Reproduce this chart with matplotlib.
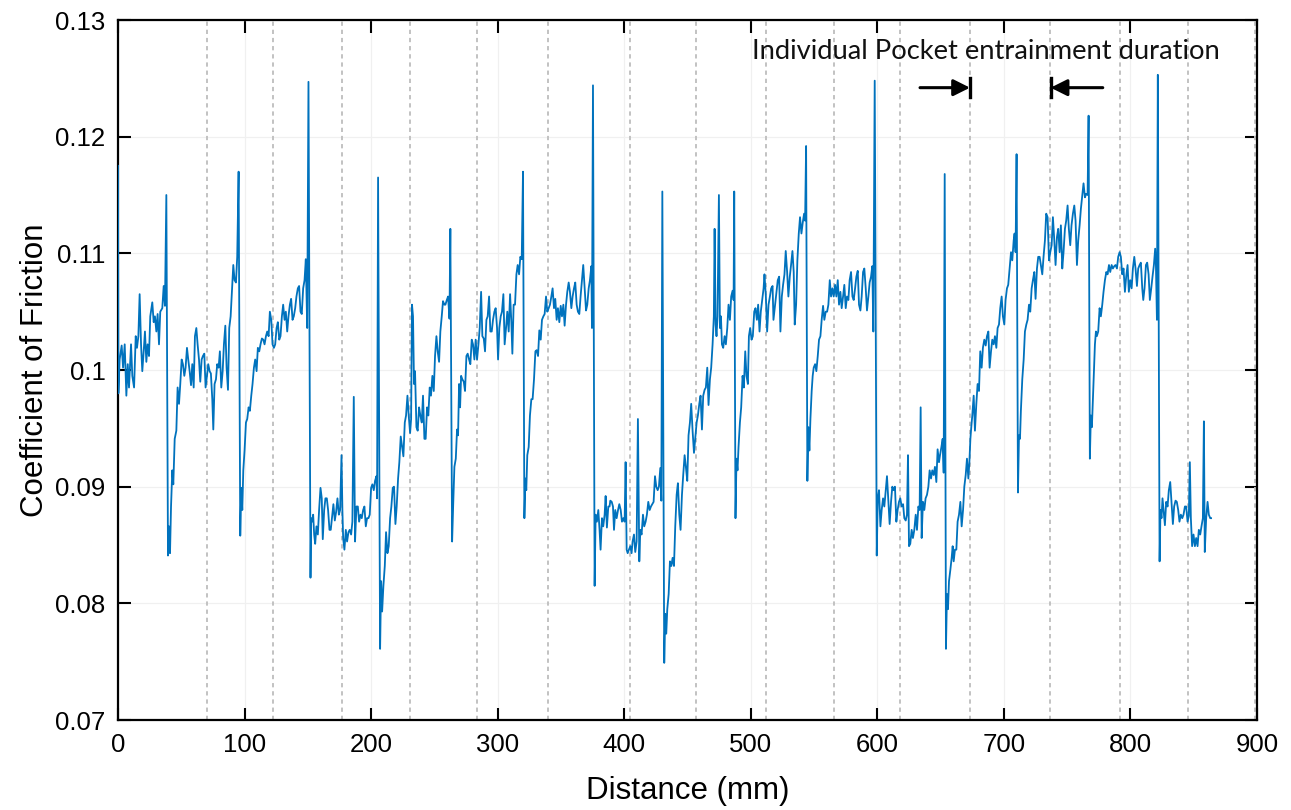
import matplotlib
matplotlib.use("Agg")
import matplotlib.pyplot as plt
from matplotlib.ticker import FuncFormatter
import numpy as np

# Friction trace, (distance mm, coefficient of friction), split by stretch of travel
pocket_a = [
    (0.0, 0.1175), (0.3, 0.0980), (1.3, 0.1009), (2.9, 0.1021), (4.0, 0.1002), (5.3, 0.1022),
    (6.6, 0.0978), (7.7, 0.1005), (8.7, 0.0985), (10.3, 0.1022), (11.3, 0.0995), (12.7, 0.0985),
    (14.0, 0.1029), (15.0, 0.1019), (16.1, 0.1029), (17.1, 0.1065), (18.2, 0.1022), (19.2, 0.0999),
    (20.3, 0.1016), (21.3, 0.1033), (22.4, 0.1007), (23.4, 0.1022), (24.5, 0.1012), (25.5, 0.1046),
    (27.1, 0.1058), (28.2, 0.1041), (29.2, 0.1046), (30.3, 0.1033), (31.3, 0.1048), (32.4, 0.1022),
    (33.4, 0.1050), (35.0, 0.1053), (36.1, 0.1072), (37.1, 0.1055), (38.2, 0.1150), (39.5, 0.0841),
    (40.3, 0.0866), (41.1, 0.0843), (41.9, 0.0883), (42.9, 0.0914), (43.7, 0.0902), (44.8, 0.0941),
    (46.1, 0.0948), (47.1, 0.0985), (48.2, 0.0971), (49.2, 0.0988), (50.3, 0.1009), (51.3, 0.1005),
    (52.4, 0.0995), (53.4, 0.1002), (54.5, 0.1019), (55.5, 0.1009), (56.6, 0.0999), (57.7, 0.0987),
    (58.7, 0.1005), (59.8, 0.0985), (60.8, 0.1029), (61.9, 0.1036), (62.9, 0.1022), (64.0, 0.1009),
    (65.0, 0.0990), (66.1, 0.1009), (67.1, 0.1012), (68.2, 0.1014), (69.2, 0.0985), (70.3, 0.0995),
    (71.3, 0.1005), (72.4, 0.0999), (73.4, 0.0997), (74.5, 0.0975), (75.3, 0.0949), (76.3, 0.0988),
    (77.4, 0.0992), (78.4, 0.1005), (79.5, 0.1002), (80.5, 0.1016), (81.6, 0.0985), (82.7, 0.0999),
    (83.7, 0.1022), (84.8, 0.1038), (85.8, 0.1002), (86.9, 0.0983), (87.9, 0.1036), (89.0, 0.1046),
    (90.0, 0.1067), (91.1, 0.1090), (92.1, 0.1077), (93.2, 0.1075), (94.2, 0.1097), (95.3, 0.1170),
    (96.6, 0.0858), (97.4, 0.0899), (98.2, 0.0880), (99.0, 0.0914), (100.0, 0.0931), (101.1, 0.0955),
    (102.1, 0.0958), (103.2, 0.0968), (104.2, 0.0965), (105.3, 0.0978), (106.3, 0.0988), (107.4, 0.1002),
    (108.4, 0.1009), (109.5, 0.0999), (110.5, 0.1019), (111.6, 0.1016), (112.6, 0.1022), (113.7, 0.1027),
    (114.8, 0.1026), (115.8, 0.1022), (116.9, 0.1029), (117.9, 0.1033), (119.0, 0.1029), (120.0, 0.1050),
    (121.1, 0.1043), (122.1, 0.1022), (123.2, 0.1019), (124.2, 0.1022), (125.3, 0.1036), (126.3, 0.1041),
    (127.4, 0.1026),
]

pocket_b = [
    (128.4, 0.1029), (129.5, 0.1046), (130.5, 0.1056), (131.6, 0.1043), (132.6, 0.1050), (133.7, 0.1033),
    (134.7, 0.1046), (135.8, 0.1056), (136.8, 0.1061), (137.9, 0.1043), (138.9, 0.1046), (140.0, 0.1053),
    (141.0, 0.1063), (142.1, 0.1070), (143.1, 0.1072), (144.2, 0.1050), (145.2, 0.1048), (146.3, 0.1070),
    (147.4, 0.1077), (148.4, 0.1095), (149.5, 0.1036), (150.5, 0.1247), (152.1, 0.0822), (152.6, 0.0873),
    (153.4, 0.0870), (154.2, 0.0876), (155.0, 0.0859), (155.8, 0.0851), (156.8, 0.0866), (157.9, 0.0859),
    (158.9, 0.0880), (160.0, 0.0899), (161.0, 0.0890), (161.8, 0.0855), (162.9, 0.0880), (163.9, 0.0890),
    (165.0, 0.0890), (166.0, 0.0880), (167.1, 0.0863), (168.1, 0.0863), (169.2, 0.0875), (170.2, 0.0885),
    (171.3, 0.0871), (172.3, 0.0878), (173.4, 0.0890), (174.5, 0.0876), (175.5, 0.0880), (176.6, 0.0927),
    (177.3, 0.0880), (177.9, 0.0856), (178.9, 0.0846), (180.0, 0.0863), (181.0, 0.0853), (182.1, 0.0861),
    (183.1, 0.0863), (184.2, 0.0859), (185.2, 0.0870), (186.3, 0.0977), (187.3, 0.0853), (188.4, 0.0883),
    (189.5, 0.0883), (190.5, 0.0870), (191.6, 0.0876), (192.6, 0.0873), (193.7, 0.0880), (194.7, 0.0883),
    (195.8, 0.0866), (196.8, 0.0873), (197.9, 0.0873), (198.9, 0.0876), (200.0, 0.0899), (201.0, 0.0902),
    (202.1, 0.0897), (203.1, 0.0905), (204.2, 0.0909), (204.7, 0.0890), (205.5, 0.1165), (207.1, 0.0761),
    (207.9, 0.0819), (208.7, 0.0793), (209.7, 0.0815), (210.8, 0.0832), (211.8, 0.0861), (212.9, 0.0843),
    (213.9, 0.0849), (215.0, 0.0873), (216.0, 0.0883), (217.1, 0.0899), (218.1, 0.0900), (219.2, 0.0868),
    (220.2, 0.0883), (221.3, 0.0907), (222.3, 0.0921), (223.4, 0.0943), (224.5, 0.0934), (225.5, 0.0926),
    (226.6, 0.0955), (227.6, 0.0961), (228.7, 0.0978), (229.7, 0.0961), (230.8, 0.0946), (231.6, 0.0958),
    (232.3, 0.1056), (233.1, 0.1046), (233.9, 0.0988), (234.7, 0.0999), (235.8, 0.0951), (236.8, 0.0948),
    (237.9, 0.0968), (238.9, 0.0961), (240.0, 0.0955), (241.0, 0.0978), (242.1, 0.0941), (243.1, 0.0941),
    (244.2, 0.0968), (245.2, 0.0961), (246.3, 0.0985), (247.3, 0.0978), (248.4, 0.0995), (249.5, 0.0982),
    (250.5, 0.1012), (251.6, 0.1029), (252.6, 0.1016), (253.7, 0.1007), (254.7, 0.1033), (255.8, 0.1046),
    (256.8, 0.1059), (257.9, 0.1056),
]

pocket_c = [
    (258.7, 0.1056), (259.8, 0.1060), (260.8, 0.1063), (261.9, 0.1044), (262.6, 0.1121), (264.0, 0.0853),
    (264.8, 0.0883), (265.8, 0.0917), (266.9, 0.0924), (267.9, 0.0949), (268.7, 0.0944), (269.5, 0.0988),
    (270.3, 0.0968), (271.1, 0.0995), (272.1, 0.0992), (273.2, 0.0990), (274.2, 0.0982), (275.3, 0.1012),
    (276.3, 0.1014), (277.4, 0.1009), (278.4, 0.1005), (279.5, 0.1026), (280.5, 0.1022), (281.6, 0.1009),
    (282.6, 0.1026), (283.7, 0.1009), (284.8, 0.1022), (285.8, 0.1036), (286.9, 0.1067), (287.9, 0.1029),
    (289.0, 0.1027), (290.0, 0.1016), (291.1, 0.1043), (292.1, 0.1046), (293.2, 0.1063), (294.2, 0.1033),
    (295.3, 0.1033), (296.3, 0.1043), (297.4, 0.1050), (298.4, 0.1053), (299.5, 0.1036), (300.3, 0.1009),
    (301.3, 0.1036), (302.4, 0.1046), (303.4, 0.1050), (304.5, 0.1065), (305.5, 0.1022), (306.6, 0.1036),
    (307.6, 0.1050), (308.7, 0.1033), (309.8, 0.1065), (310.8, 0.1041), (311.6, 0.1014), (312.6, 0.1056),
    (313.7, 0.1056), (314.8, 0.1082), (315.8, 0.1090), (316.9, 0.1082), (317.9, 0.1097), (319.0, 0.1095),
    (320.0, 0.1170), (321.1, 0.0873), (321.9, 0.0907), (322.6, 0.0897), (323.4, 0.0927), (324.5, 0.0934),
    (325.5, 0.0961), (326.6, 0.0975), (327.6, 0.0975), (328.7, 0.0992), (329.8, 0.1016), (330.8, 0.1017),
    (331.9, 0.1012), (332.9, 0.1034), (334.0, 0.1026), (335.0, 0.1043), (336.1, 0.1046), (337.1, 0.1048),
    (338.2, 0.1063), (339.2, 0.1050), (340.3, 0.1053), (341.3, 0.1056), (342.4, 0.1063), (343.4, 0.1070),
    (344.5, 0.1053), (345.5, 0.1061), (346.6, 0.1043), (347.6, 0.1053), (348.7, 0.1041), (349.8, 0.1055),
    (350.8, 0.1046), (351.9, 0.1056), (352.9, 0.1038), (354.0, 0.1056), (355.0, 0.1067), (356.1, 0.1075),
    (357.1, 0.1067), (358.2, 0.1053), (359.2, 0.1063), (360.3, 0.1070), (361.3, 0.1075), (362.4, 0.1056),
    (363.4, 0.1050), (364.5, 0.1048), (365.5, 0.1063), (366.6, 0.1077), (367.6, 0.1090), (368.7, 0.1070),
    (369.8, 0.1051), (370.8, 0.1056), (371.9, 0.1070), (372.9, 0.1077), (374.0, 0.1089), (374.5, 0.1036),
    (375.3, 0.1244), (376.6, 0.0815), (377.4, 0.0876), (378.4, 0.0870), (379.5, 0.0880), (380.5, 0.0863),
    (381.3, 0.0846), (382.4, 0.0873), (383.4, 0.0866), (384.5, 0.0876), (385.3, 0.0892), (386.3, 0.0865),
    (387.4, 0.0883), (388.4, 0.0883),
]

pocket_d = [
    (389.0, 0.0888), (390.1, 0.0887), (391.1, 0.0883), (391.9, 0.0863), (392.9, 0.0880), (394.0, 0.0873),
    (395.1, 0.0880), (396.1, 0.0885), (397.2, 0.0880), (398.2, 0.0870), (399.3, 0.0873), (400.3, 0.0870),
    (401.1, 0.0921), (401.9, 0.0846), (402.7, 0.0843), (403.7, 0.0846), (404.8, 0.0849), (405.8, 0.0843),
    (406.6, 0.0853), (407.7, 0.0859), (408.7, 0.0844), (409.8, 0.0853), (410.8, 0.0958), (411.9, 0.0836),
    (412.7, 0.0863), (413.7, 0.0859), (414.8, 0.0876), (415.8, 0.0866), (416.9, 0.0870), (417.9, 0.0876),
    (419.0, 0.0887), (420.1, 0.0880), (421.1, 0.0883), (422.2, 0.0885), (423.2, 0.0887), (424.3, 0.0909),
    (425.3, 0.0900), (426.4, 0.0897), (427.4, 0.0900), (428.5, 0.0916), (429.3, 0.0888), (430.1, 0.1153),
    (431.6, 0.0749), (432.4, 0.0791), (433.2, 0.0774), (434.0, 0.0795), (435.1, 0.0808), (436.1, 0.0836),
    (437.2, 0.0832), (438.2, 0.0839), (439.3, 0.0832), (440.3, 0.0866), (441.4, 0.0893), (442.4, 0.0903),
    (443.5, 0.0876), (444.5, 0.0863), (445.6, 0.0893), (446.6, 0.0910), (447.7, 0.0927), (448.7, 0.0917),
    (449.8, 0.0905), (450.8, 0.0944), (451.9, 0.0955), (452.9, 0.0971), (454.0, 0.0948), (455.1, 0.0929),
    (456.1, 0.0941), (457.2, 0.0955), (458.2, 0.0961), (459.3, 0.0971), (460.3, 0.0978), (461.4, 0.0949),
    (462.4, 0.0978), (463.5, 0.0983), (464.5, 0.0985), (465.6, 0.1002), (466.6, 0.0970), (467.7, 0.0992),
    (468.7, 0.1002), (469.8, 0.1022), (470.8, 0.1046), (471.4, 0.1121), (472.2, 0.1039), (472.9, 0.1029),
    (473.7, 0.1046), (474.8, 0.1150), (475.6, 0.1036), (476.4, 0.1046), (477.2, 0.1022), (478.2, 0.1019),
    (479.3, 0.1029), (480.3, 0.1022), (481.4, 0.1036), (482.4, 0.1056), (483.5, 0.1043), (484.5, 0.1063),
    (485.6, 0.1068), (486.4, 0.1060), (486.9, 0.1153), (487.9, 0.0873), (488.7, 0.0924), (489.5, 0.0914),
    (490.3, 0.0934), (491.4, 0.0955), (492.4, 0.0968), (493.5, 0.0995), (494.5, 0.0985), (495.6, 0.1016),
    (496.6, 0.0995), (497.7, 0.0988), (498.5, 0.1029), (499.5, 0.1036), (500.6, 0.1026), (501.6, 0.1029),
    (502.7, 0.1050), (503.7, 0.1053), (504.8, 0.1043), (505.8, 0.1056), (506.9, 0.1033), (507.9, 0.1050),
    (509.0, 0.1060), (510.1, 0.1070), (510.8, 0.1082), (511.9, 0.1063), (512.9, 0.1033), (514.0, 0.1056),
    (515.1, 0.1063), (516.1, 0.1070), (517.2, 0.1072), (517.9, 0.1043),
]

pocket_e = [
    (519.2, 0.1056), (520.3, 0.1067), (521.3, 0.1077), (522.4, 0.1080), (523.4, 0.1033), (524.5, 0.1063),
    (525.5, 0.1073), (526.6, 0.1082), (527.6, 0.1102), (528.7, 0.1084), (529.7, 0.1063), (530.8, 0.1080),
    (531.8, 0.1090), (532.9, 0.1102), (533.9, 0.1084), (534.7, 0.1039), (535.8, 0.1056), (536.8, 0.1094),
    (537.9, 0.1117), (538.9, 0.1131), (540.0, 0.1117), (541.0, 0.1126), (542.1, 0.1134), (542.9, 0.1128),
    (543.7, 0.1192), (544.7, 0.0905), (545.5, 0.0951), (546.3, 0.0931), (547.1, 0.0958), (548.1, 0.0982),
    (548.9, 0.0995), (549.7, 0.1002), (550.8, 0.1005), (551.8, 0.0999), (552.9, 0.1012), (553.9, 0.1026),
    (555.0, 0.1029), (556.0, 0.1043), (557.1, 0.1055), (558.1, 0.1043), (559.2, 0.1050), (560.3, 0.1050),
    (561.3, 0.1056), (562.4, 0.1077), (563.4, 0.1063), (564.5, 0.1070), (565.5, 0.1063), (566.6, 0.1073),
    (567.6, 0.1063), (568.7, 0.1077), (569.7, 0.1056), (570.8, 0.1067), (571.8, 0.1053), (572.9, 0.1063),
    (573.9, 0.1073), (575.0, 0.1053), (576.0, 0.1063), (577.1, 0.1060), (578.1, 0.1077), (579.2, 0.1084),
    (580.3, 0.1063), (581.3, 0.1060), (582.4, 0.1070), (583.4, 0.1080), (584.5, 0.1085), (585.5, 0.1056),
    (586.6, 0.1051), (587.6, 0.1063), (588.7, 0.1084), (589.7, 0.1087), (590.8, 0.1070), (591.8, 0.1051),
    (592.9, 0.1063), (593.9, 0.1075), (595.0, 0.1080), (596.0, 0.1089), (596.8, 0.1033), (597.9, 0.1248),
    (599.5, 0.0841), (600.3, 0.0890), (601.3, 0.0897), (602.4, 0.0866), (603.4, 0.0880), (604.5, 0.0890),
    (605.5, 0.0883), (606.6, 0.0897), (607.6, 0.0909), (608.7, 0.0887), (609.7, 0.0868), (610.8, 0.0887),
    (611.8, 0.0900), (612.9, 0.0897), (613.9, 0.0900), (615.0, 0.0870), (616.0, 0.0880), (617.1, 0.0887),
    (618.1, 0.0890), (619.2, 0.0883), (620.3, 0.0885), (621.3, 0.0873), (622.4, 0.0871), (623.4, 0.0876),
    (624.2, 0.0927), (625.0, 0.0849), (626.0, 0.0851), (627.1, 0.0863), (628.1, 0.0856), (629.2, 0.0863),
    (630.3, 0.0876), (631.3, 0.0863), (632.4, 0.0883), (633.4, 0.0880), (634.2, 0.0968), (635.0, 0.0856),
    (636.0, 0.0887), (637.1, 0.0880), (638.1, 0.0890), (639.2, 0.0893), (640.3, 0.0900), (641.3, 0.0914),
    (642.4, 0.0907), (643.4, 0.0914), (644.5, 0.0910), (645.5, 0.0917), (646.6, 0.0904), (647.6, 0.0932),
    (648.7, 0.0921),
]

pocket_f = [
    (649.5, 0.0927), (650.6, 0.0934), (651.6, 0.0941), (652.4, 0.0912), (653.2, 0.1168), (654.2, 0.0761),
    (655.0, 0.0808), (655.8, 0.0795), (656.6, 0.0819), (657.7, 0.0829), (658.7, 0.0839), (659.5, 0.0849),
    (660.3, 0.0836), (661.3, 0.0846), (662.4, 0.0846), (663.4, 0.0870), (664.5, 0.0876), (665.6, 0.0887),
    (666.6, 0.0866), (667.7, 0.0880), (668.7, 0.0900), (669.8, 0.0910), (670.8, 0.0924), (671.9, 0.0907),
    (672.7, 0.0921), (673.5, 0.0941), (674.2, 0.0951), (675.0, 0.0961), (676.1, 0.0978), (677.1, 0.0948),
    (678.2, 0.0971), (679.2, 0.0988), (680.3, 0.0982), (681.3, 0.1016), (682.4, 0.1002), (683.4, 0.1019),
    (684.5, 0.1026), (685.6, 0.1021), (686.6, 0.1029), (687.7, 0.1033), (688.7, 0.1002), (689.8, 0.1016),
    (690.8, 0.1026), (691.9, 0.1022), (692.9, 0.1029), (694.0, 0.1019), (695.0, 0.1036), (696.1, 0.1039),
    (697.1, 0.1053), (698.2, 0.1063), (699.2, 0.1046), (700.3, 0.1039), (701.3, 0.1060), (702.4, 0.1070),
    (703.4, 0.1073), (704.5, 0.1087), (705.6, 0.1101), (706.6, 0.1094), (707.7, 0.1111), (708.4, 0.1117),
    (709.2, 0.1101), (710.0, 0.1185), (711.1, 0.0895), (711.9, 0.0944), (712.7, 0.0941), (713.4, 0.0965),
    (714.5, 0.0992), (715.6, 0.1009), (716.6, 0.1033), (717.7, 0.1039), (718.7, 0.1043), (719.8, 0.1056),
    (720.8, 0.1050), (721.9, 0.1070), (722.9, 0.1077), (724.0, 0.1084), (725.0, 0.1061), (726.1, 0.1087),
    (727.1, 0.1097), (728.2, 0.1097), (729.2, 0.1090), (730.3, 0.1082), (731.3, 0.1097), (732.4, 0.1111),
    (733.4, 0.1134), (734.5, 0.1131), (735.6, 0.1094), (736.6, 0.1101), (737.7, 0.1107), (738.7, 0.1131),
    (739.8, 0.1111), (740.8, 0.1090), (741.9, 0.1114), (742.9, 0.1121), (744.0, 0.1101), (745.0, 0.1124),
    (746.1, 0.1087), (747.1, 0.1101), (748.2, 0.1121), (749.2, 0.1128), (750.3, 0.1141), (751.3, 0.1121),
    (752.4, 0.1107), (753.4, 0.1124), (754.5, 0.1134), (755.6, 0.1141), (756.6, 0.1128), (757.7, 0.1090),
    (758.7, 0.1111), (759.8, 0.1124), (760.8, 0.1138), (761.9, 0.1150), (762.9, 0.1160), (764.0, 0.1148),
    (765.0, 0.1151), (766.1, 0.1150), (766.9, 0.1218), (767.9, 0.0924), (768.7, 0.0961), (769.5, 0.0951),
    (770.3, 0.0975), (771.1, 0.0999), (771.9, 0.1022), (772.7, 0.1033), (773.4, 0.1029), (774.5, 0.1033),
    (775.6, 0.1053), (776.6, 0.1046), (777.7, 0.1056), (778.7, 0.1067),
]

pocket_g = [
    (779.8, 0.1077), (780.9, 0.1084), (781.9, 0.1082), (783.0, 0.1090), (784.0, 0.1084), (785.1, 0.1090),
    (786.1, 0.1087), (787.2, 0.1089), (788.2, 0.1090), (789.3, 0.1087), (790.3, 0.1097), (791.4, 0.1101),
    (792.4, 0.1097), (793.5, 0.1082), (794.5, 0.1087), (795.6, 0.1067), (796.6, 0.1080), (797.7, 0.1090),
    (798.7, 0.1067), (799.8, 0.1077), (800.9, 0.1070), (801.9, 0.1087), (803.0, 0.1097), (804.0, 0.1087),
    (805.1, 0.1072), (806.1, 0.1087), (807.2, 0.1090), (808.2, 0.1092), (809.3, 0.1070), (810.1, 0.1060),
    (811.1, 0.1070), (812.2, 0.1090), (813.2, 0.1092), (814.3, 0.1082), (815.3, 0.1060), (816.4, 0.1070),
    (817.4, 0.1080), (818.5, 0.1090), (819.5, 0.1104), (820.1, 0.1090), (820.9, 0.1043), (821.6, 0.1253),
    (823.0, 0.0836), (823.7, 0.0880), (824.5, 0.0873), (825.3, 0.0890), (826.1, 0.0880), (827.2, 0.0867),
    (828.2, 0.0887), (829.3, 0.0883), (830.3, 0.0897), (831.4, 0.0904), (832.4, 0.0887), (833.5, 0.0868),
    (834.5, 0.0883), (835.6, 0.0888), (836.6, 0.0887), (837.7, 0.0880), (838.7, 0.0870), (839.8, 0.0876),
    (840.9, 0.0873), (841.9, 0.0876), (843.0, 0.0883), (844.0, 0.0883), (845.1, 0.0870), (846.1, 0.0875),
    (846.9, 0.0921), (847.7, 0.0873), (848.7, 0.0849), (849.8, 0.0859), (850.9, 0.0849), (851.9, 0.0856),
    (853.0, 0.0849), (854.0, 0.0863), (855.1, 0.0859), (856.1, 0.0866), (857.2, 0.0873), (858.0, 0.0956),
    (858.7, 0.0844), (859.8, 0.0873), (860.9, 0.0887), (861.9, 0.0876), (863.0, 0.0873), (863.7, 0.0873),
]

# Pocket boundary positions (mm)
pocket_edges = [70.0, 122.1, 177.2, 231.0, 283.4, 340.0, 404.8, 456.9, 512.0,
                565.8, 617.9, 673.2, 736.3, 791.6, 845.3, 898.2]

x_ticks = [0, 100, 200, 300, 400, 500, 600, 700, 800, 900]
y_ticks = [0.07, 0.08, 0.09, 0.10, 0.11, 0.12, 0.13]

trace = np.array(pocket_a + pocket_b + pocket_c + pocket_d + pocket_e + pocket_f + pocket_g)

fig = plt.figure(figsize=(12.91, 8.10), dpi=100)
ax = fig.add_axes([0.0914, 0.1111, 0.8823, 0.8642])

ax.grid(True, color="#f0f0f0", lw=0.9, zorder=0)
ax.set_axisbelow(True)

for edge in pocket_edges:
    ax.axvline(edge, color="#c2c2c2", lw=1.4, dashes=(2.2, 2.0), zorder=1)

ax.plot(trace[:, 0], trace[:, 1], color="#0072BD", lw=1.3, zorder=3)

ax.set_xlim(0, 900)
ax.set_ylim(0.07, 0.13)
ax.set_xticks(x_ticks)
ax.set_yticks(y_ticks)
ax.yaxis.set_major_formatter(FuncFormatter(lambda v, p: "%g" % round(v, 4)))

for lab in ax.get_xticklabels() + ax.get_yticklabels():
    lab.set_fontfamily("Liberation Sans")
    lab.set_fontsize(18.5)

ax.tick_params(direction="in", length=9, width=1.5, top=True, right=True, pad=9)
for sp in ax.spines.values():
    sp.set_linewidth(1.6)

ax.set_xlabel("Distance (mm)", family="Liberation Sans", fontsize=22.5, labelpad=14)
ax.set_ylabel("Coefficient of Friction", family="Liberation Sans", fontsize=22.5, labelpad=4)

# Annotation of one entrainment interval
ax.text(685.6, 0.1273, "Individual Pocket entrainment duration", ha="center", va="center",
        family="Lato", fontsize=19.7, color="#111111")
arrow_y = 0.1242
ax.annotate("", xy=(673.2, arrow_y), xytext=(633.7, arrow_y),
            arrowprops=dict(arrowstyle="-|>", color="black", lw=2.2, mutation_scale=25,
                            shrinkA=0, shrinkB=0))
ax.annotate("", xy=(736.9, arrow_y), xytext=(778.1, arrow_y),
            arrowprops=dict(arrowstyle="-|>", color="black", lw=2.2, mutation_scale=25,
                            shrinkA=0, shrinkB=0))
ax.plot([673.2, 673.2], [arrow_y + 0.0008, arrow_y - 0.0008], color="black", lw=2.4, zorder=4)
ax.plot([736.9, 736.9], [arrow_y + 0.0008, arrow_y - 0.0008], color="black", lw=2.4, zorder=4)

fig.savefig("out.png", dpi=100)
